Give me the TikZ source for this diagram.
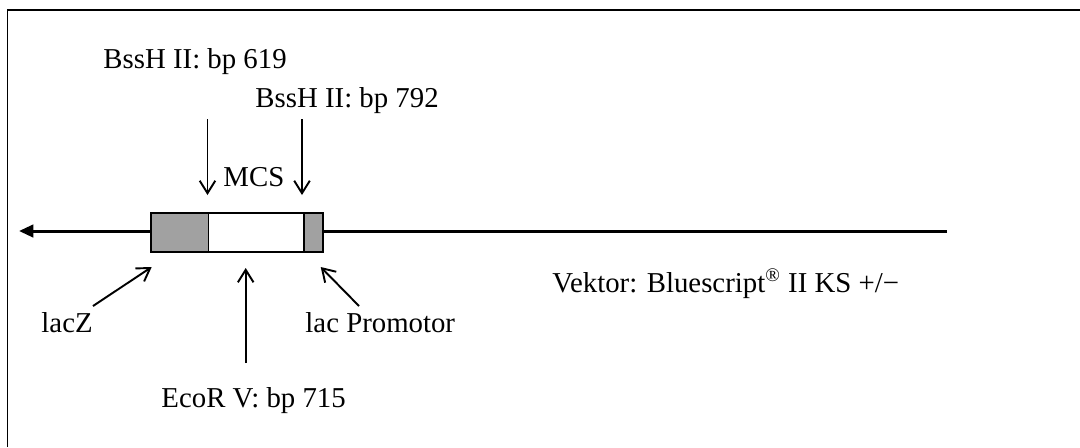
\documentclass[tikz,border=0pt]{standalone}
\usepackage{fontspec}
\setmainfont{Liberation Serif}
\usetikzlibrary{arrows.meta}
\begin{document}
\begin{tikzpicture}[x=0.41667pt,y=-0.41667pt,
  lbl/.style={font=\fontsize{12pt}{14pt}\selectfont,inner sep=0pt,anchor=base west},
  seg/.style={draw=black,line width=0.8pt,inner sep=0pt,anchor=north west,minimum height=38.7*0.41667pt},
  ptr/.style={line width=0.8pt,-{Straight Barb[length=5.2pt,width=6.5pt,line width=0.8pt]}},
  frameline/.style={line width=0.8pt}]
\useasboundingbox (0,0) rectangle (1080,447);
% frame (top and left edges only)
\coordinate (fa) at (7.5,447);
\coordinate (fb) at (7.5,10);
\coordinate (fc) at (1080,10);
\draw[frameline] (fa) -- (fb) -- (fc);
% main line
\coordinate (lineL) at (19,231);
\coordinate (lineR) at (947,231);
\draw[line width=1.25pt,-{Triangle[length=6pt,width=5.2pt]}] (lineR) -- (lineL);
% box segments
\node[seg,fill=black!37,minimum width=57.5*0.41667pt] (lacz) at (150,212.3) {};
\node[seg,fill=white,minimum width=95.2*0.41667pt] (mcs) at (207.5,212.3) {};
\node[seg,fill=black!37,minimum width=19*0.41667pt] (lacp) at (302.7,212.3) {};
% labels
\node[lbl] (b619) at (103,68) {BssH II: bp 619};
\node[lbl] (b792) at (255,107) {BssH II: bp 792};
\node[lbl] (mcsl) at (223,186) {MCS};
\node[lbl] (laczl) at (41,332) {lacZ};
\node[lbl] (lacpl) at (305,332) {lac Promotor};
\node[lbl] (ecol) at (161,407) {EcoR V: bp 715};
\node[lbl] (vek) at (552,292) {Vektor: Bluescript\textsuperscript{\textregistered} II KS +/−};
% arrow ends
\coordinate (a1s) at (207.5,119);
\coordinate (a1e) at (207.5,195);
\coordinate (a2s) at (302,119);
\coordinate (a2e) at (302,195);
\coordinate (zs) at (93,306);
\coordinate (ze) at (151.7,267);
\coordinate (ps) at (359,306);
\coordinate (pe) at (320.7,267);
\coordinate (es) at (245.7,363);
\coordinate (ee) at (245.7,268);
\draw[ptr] (a1s) -- (a1e);
\draw[ptr] (a2s) -- (a2e);
\draw[ptr] (zs) -- (ze);
\draw[ptr] (ps) -- (pe);
\draw[ptr] (es) -- (ee);
\end{tikzpicture}
\end{document}
